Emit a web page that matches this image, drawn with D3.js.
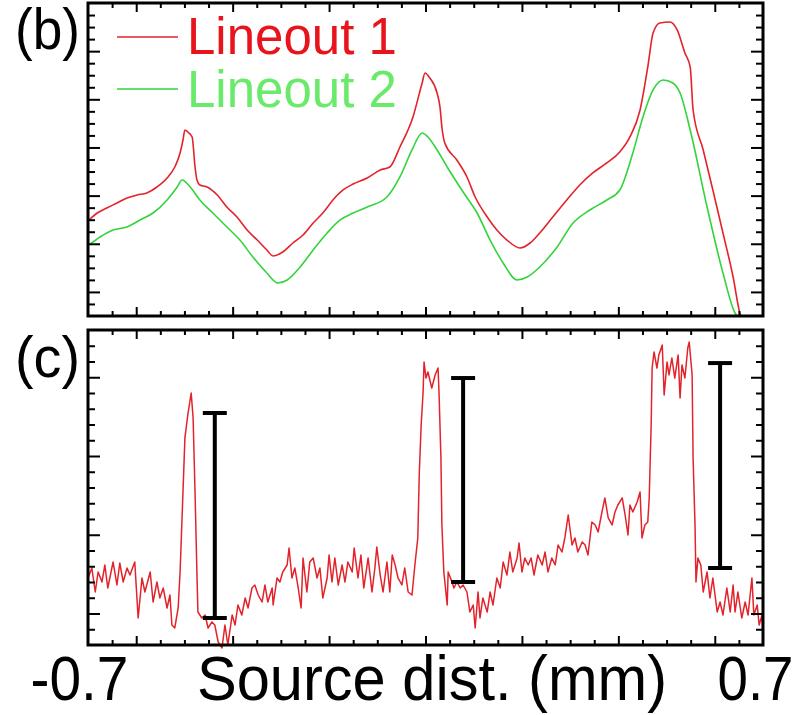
<!DOCTYPE html>
<html>
<head>
<meta charset="utf-8">
<script src="https://cdn.jsdelivr.net/npm/d3@7"></script>
<style>
  body { margin: 0; background: #fff; }
  text { font-family: "Liberation Sans", Arial, Helvetica, sans-serif; }
</style>
</head>
<body>
<div id="chart"></div>
<script>
// x in mm, intensities in arbitrary units
const xDomain = [-0.7, 0.7];
const xLabels = [-0.7, 0.7];
const xMajor = [-0.6, -0.4, -0.2, 0, 0.2, 0.4, 0.6];

const seriesNames = ["Lineout 1", "Lineout 2"];

// panel (b) lineouts
const lineout1 = [
  [-0.698, 2.494], [-0.681, 2.639], [-0.661, 2.743], [-0.640, 2.847], [-0.619, 2.951],
  [-0.598, 3.013], [-0.578, 3.055], [-0.557, 3.179], [-0.536, 3.366], [-0.520, 3.595],
  [-0.509, 3.885], [-0.503, 4.155], [-0.499, 4.363], [-0.493, 4.321], [-0.484, 4.218],
  [-0.478, 3.595], [-0.474, 3.324], [-0.468, 3.221], [-0.453, 3.179], [-0.432, 3.013],
  [-0.412, 2.764], [-0.391, 2.556], [-0.370, 2.286], [-0.349, 2.078], [-0.329, 1.871],
  [-0.316, 1.746], [-0.296, 1.829], [-0.275, 2.016], [-0.254, 2.182], [-0.233, 2.431],
  [-0.213, 2.639], [-0.192, 2.909], [-0.171, 3.117], [-0.150, 3.241], [-0.121, 3.366],
  [-0.094, 3.532], [-0.074, 3.595], [-0.053, 4.010], [-0.026, 4.633], [-0.007, 5.339],
  [-0.001, 5.547], [0.009, 5.443], [0.024, 5.131], [0.030, 4.841], [0.034, 4.425],
  [0.040, 4.093], [0.065, 3.740], [0.086, 3.387], [0.103, 2.971], [0.128, 2.556],
  [0.148, 2.286], [0.169, 2.078], [0.196, 1.912], [0.217, 2.016], [0.237, 2.224],
  [0.264, 2.556], [0.293, 2.909], [0.320, 3.221], [0.347, 3.470], [0.376, 3.678],
  [0.403, 3.906], [0.424, 4.218], [0.445, 4.778], [0.461, 5.671], [0.472, 6.378],
  [0.486, 6.585], [0.507, 6.606], [0.522, 6.440], [0.538, 5.962], [0.549, 5.671],
  [0.555, 4.778], [0.576, 3.948], [0.596, 3.117], [0.617, 2.224], [0.638, 1.310],
  [0.652, 0.562], [0.654, 0.5]
];
const lineout2 = [
  [-0.698, 1.975], [-0.675, 2.141], [-0.648, 2.286], [-0.619, 2.348], [-0.592, 2.494],
  [-0.565, 2.639], [-0.536, 2.909], [-0.515, 3.179], [-0.505, 3.324], [-0.488, 3.179],
  [-0.468, 2.909], [-0.441, 2.639], [-0.412, 2.348], [-0.385, 2.078], [-0.358, 1.725],
  [-0.329, 1.393], [-0.306, 1.185], [-0.287, 1.248], [-0.260, 1.518], [-0.233, 1.871],
  [-0.204, 2.224], [-0.177, 2.494], [-0.150, 2.639], [-0.121, 2.764], [-0.080, 2.971],
  [-0.053, 3.387], [-0.028, 3.948], [-0.007, 4.301], [0.005, 4.218], [0.024, 3.948],
  [0.045, 3.595], [0.078, 3.075], [0.107, 2.639], [0.134, 2.078],
  [0.161, 1.601], [0.190, 1.248], [0.211, 1.310], [0.237, 1.518], [0.273, 1.933],
  [0.306, 2.431], [0.341, 2.701], [0.376, 2.909], [0.403, 3.117], [0.430, 3.885],
  [0.451, 4.633], [0.472, 5.194], [0.493, 5.401], [0.513, 5.339], [0.528, 5.131],
  [0.549, 4.363], [0.584, 2.764], [0.617, 1.393], [0.642, 0.562], [0.646, 0.5]
];

// panel (c) trace
const traceC = [
  [-0.700, 1.451], [-0.692, 1.578], [-0.685, 1.273], [-0.679, 1.527], [-0.671, 1.400],
  [-0.665, 1.616], [-0.659, 1.324], [-0.648, 1.654], [-0.640, 1.362], [-0.634, 1.641],
  [-0.627, 1.400], [-0.619, 1.578], [-0.613, 1.489], [-0.603, 1.654], [-0.596, 0.943],
  [-0.588, 1.451], [-0.582, 1.273], [-0.571, 1.527], [-0.565, 1.146], [-0.557, 1.400],
  [-0.551, 1.197], [-0.544, 1.324], [-0.536, 1.070], [-0.530, 1.235], [-0.526, 0.854],
  [-0.520, 0.816], [-0.513, 1.070], [-0.509, 1.527], [-0.503, 2.543], [-0.499, 3.229],
  [-0.493, 3.521], [-0.486, 3.800], [-0.482, 3.483], [-0.478, 2.543], [-0.474, 1.489],
  [-0.472, 1.019], [-0.464, 0.943], [-0.457, 0.981], [-0.451, 0.816], [-0.443, 0.892],
  [-0.437, 0.854], [-0.430, 0.638], [-0.422, 0.562], [-0.416, 0.854], [-0.410, 0.600],
  [-0.401, 0.981], [-0.395, 0.854], [-0.389, 1.108], [-0.381, 0.981], [-0.374, 1.197],
  [-0.368, 1.070], [-0.360, 1.324], [-0.354, 1.362], [-0.347, 1.235], [-0.339, 1.146],
  [-0.333, 1.362], [-0.327, 1.146], [-0.318, 1.324], [-0.316, 1.108], [-0.308, 1.451],
  [-0.302, 1.400], [-0.296, 1.527], [-0.287, 1.616], [-0.283, 1.832], [-0.277, 1.451],
  [-0.271, 1.578], [-0.264, 1.324], [-0.258, 1.070], [-0.254, 1.705], [-0.246, 1.273],
  [-0.240, 1.654], [-0.233, 1.705], [-0.225, 1.451], [-0.219, 1.578], [-0.213, 1.197],
  [-0.204, 1.451], [-0.200, 1.743], [-0.194, 1.400], [-0.188, 1.705], [-0.181, 1.362],
  [-0.173, 1.616], [-0.167, 1.400], [-0.161, 1.654], [-0.152, 1.527], [-0.148, 1.832],
  [-0.140, 1.451], [-0.134, 1.743], [-0.128, 1.324], [-0.119, 1.705], [-0.111, 1.273],
  [-0.105, 1.578], [-0.101, 1.844], [-0.094, 1.489], [-0.088, 1.273], [-0.080, 1.654],
  [-0.074, 1.273], [-0.069, 1.743], [-0.063, 1.616], [-0.057, 1.451], [-0.049, 1.362],
  [-0.043, 1.578], [-0.036, 1.273], [-0.028, 1.235], [-0.022, 1.616], [-0.016, 1.959],
  [-0.013, 2.759], [-0.009, 3.394], [-0.005, 3.813], [-0.003, 4.194], [0.001, 3.990],
  [0.005, 4.067], [0.013, 3.863], [0.020, 4.029], [0.026, 4.117], [0.028, 3.813],
  [0.032, 2.975], [0.034, 2.124], [0.038, 1.527], [0.045, 1.108], [0.047, 1.527],
  [0.055, 1.400], [0.059, 1.324], [0.065, 1.400], [0.072, 1.324], [0.078, 1.362],
  [0.086, 1.273], [0.092, 1.019], [0.099, 1.108], [0.103, 0.816], [0.109, 1.273],
  [0.113, 0.943], [0.119, 1.197], [0.128, 1.019], [0.134, 1.273], [0.140, 1.108],
  [0.148, 1.451], [0.155, 1.324], [0.161, 1.654], [0.169, 1.489], [0.175, 1.781],
  [0.181, 1.527], [0.190, 1.705], [0.194, 1.895], [0.200, 1.527], [0.206, 1.705],
  [0.213, 1.616], [0.219, 1.705], [0.225, 1.489], [0.233, 1.743], [0.242, 1.616],
  [0.248, 1.781], [0.254, 1.527], [0.262, 1.705], [0.269, 1.616], [0.275, 1.870],
  [0.283, 1.781], [0.289, 1.959], [0.296, 2.251], [0.304, 1.870], [0.310, 1.959],
  [0.316, 1.781], [0.325, 1.908], [0.331, 1.870], [0.337, 1.743], [0.345, 2.162],
  [0.352, 2.124], [0.358, 2.035], [0.366, 2.289], [0.372, 2.467], [0.379, 2.213],
  [0.387, 2.124], [0.393, 2.289], [0.399, 2.378], [0.408, 2.467], [0.414, 2.251],
  [0.420, 1.997], [0.424, 2.378], [0.430, 2.289], [0.439, 2.416], [0.445, 2.543],
  [0.449, 1.959], [0.455, 2.124], [0.461, 2.162], [0.464, 2.467], [0.468, 3.394],
  [0.470, 4.117], [0.474, 4.321], [0.480, 4.117], [0.484, 4.283], [0.491, 4.410],
  [0.495, 3.775], [0.501, 4.194], [0.505, 4.029], [0.511, 4.244], [0.517, 3.990],
  [0.524, 4.283], [0.528, 3.737], [0.532, 4.156], [0.538, 3.990], [0.544, 4.371],
  [0.547, 4.448], [0.553, 4.029], [0.555, 2.975], [0.559, 2.124], [0.561, 1.400],
  [0.565, 1.705], [0.571, 1.616], [0.576, 1.273], [0.584, 1.527], [0.590, 1.197],
  [0.596, 1.451], [0.605, 1.019], [0.611, 1.146], [0.617, 0.981], [0.625, 1.324],
  [0.632, 1.019], [0.638, 1.362], [0.642, 1.019], [0.648, 1.273], [0.656, 0.943],
  [0.663, 1.146], [0.669, 0.981], [0.677, 1.451], [0.681, 0.981], [0.688, 1.108],
  [0.692, 0.854], [0.698, 0.981], [0.700, 0.727]
];

// error bars in panel (c)
const errX = [-0.437, 0.078, 0.611];
const errLow = [0.943, 1.400, 1.578];
const errHigh = [3.546, 3.990, 4.180];

const W = 801, H = 715;
const left = 88, right = 763;
const red = "#e3232b", green = "#33d33c";

const svg = d3.select("#chart").append("svg")
    .attr("width", W).attr("height", H)
    .style("background", "#fff");

const x = d3.scaleLinear().domain(xDomain).range([left, right]);
const xMinor = d3.range(-0.65, 0.7, 0.05).filter(v => !xMajor.some(m => Math.abs(m - v) < 1e-6));

function drawPanel(name, y, top, bottom, yMajor, yMinor) {
    const g = svg.append("g").attr("class", name);

    const put = (axis, tx, ty) => g.append("g")
        .attr("transform", `translate(${tx},${ty})`)
        .call(axis.tickFormat("").tickSizeOuter(0))
        .call(s => s.select(".domain").remove())
        .call(s => s.selectAll("line").attr("stroke", "#000").attr("stroke-width", 2));

    put(d3.axisBottom(x).tickValues(xMinor).tickSizeInner(-5), 0, bottom);
    put(d3.axisBottom(x).tickValues(xMajor).tickSizeInner(-9), 0, bottom);
    put(d3.axisTop(x).tickValues(xMinor).tickSizeInner(-5), 0, top);
    put(d3.axisTop(x).tickValues(xMajor).tickSizeInner(-9), 0, top);
    put(d3.axisLeft(y).tickValues(yMinor).tickSizeInner(-7), left, 0);
    put(d3.axisLeft(y).tickValues(yMajor).tickSizeInner(-12), left, 0);
    put(d3.axisRight(y).tickValues(yMinor).tickSizeInner(-7), right, 0);
    put(d3.axisRight(y).tickValues(yMajor).tickSizeInner(-12), right, 0);

    g.append("rect")
        .attr("x", left).attr("y", top)
        .attr("width", right - left).attr("height", bottom - top)
        .attr("fill", "none").attr("stroke", "#000").attr("stroke-width", 3);
    return g;
}

// ---- panel (b)
const yB = d3.scaleLinear().domain([0.5, 7]).range([316, 3]);
const yBMajor = [1, 2, 3, 4, 5, 6];
const yBMinor = d3.range(0.75, 7, 0.25).filter(v => v % 1 !== 0);

svg.append("clipPath").attr("id", "clipB").append("rect")
    .attr("x", left).attr("y", 3).attr("width", right - left).attr("height", 313);

const lineB = d3.line().curve(d3.curveMonotoneX).x(d => x(d[0])).y(d => yB(d[1]));
svg.append("path").datum(lineout2).attr("d", lineB)
    .attr("clip-path", "url(#clipB)")
    .attr("fill", "none").attr("stroke", green).attr("stroke-width", 1.6);
svg.append("path").datum(lineout1).attr("d", lineB)
    .attr("clip-path", "url(#clipB)")
    .attr("fill", "none").attr("stroke", red).attr("stroke-width", 1.6);

drawPanel("panel-b", yB, 3, 316, yBMajor, yBMinor);

// legend
const legend = svg.append("g");
[[red, "#e8141c"], [green, "#6aea6a"]].forEach(([lc, tc], i) => {
    const ly = 37 + i * 52;
    legend.append("line").attr("x1", 117).attr("x2", 178).attr("y1", ly).attr("y2", ly)
        .attr("stroke", lc).attr("stroke-width", 1.6);
    legend.append("text").attr("x", 187).attr("y", 54 + i * 53)
        .attr("font-size", 51).attr("fill", tc).text(seriesNames[i]);
});

svg.append("text").attr("x", 15).attr("y", 49).attr("font-size", 58)
    .attr("textLength", 65).attr("lengthAdjust", "spacingAndGlyphs").text("(b)");

// ---- panel (c)
const yC = d3.scaleLinear().domain([0.6, 4.6]).range([645, 330]);
const yCMajor = [1, 2, 3, 4];
const yCMinor = d3.range(0.8, 4.6, 0.2).filter(v => Math.abs(v - Math.round(v)) > 1e-6);

const lineC = d3.line().x(d => x(d[0])).y(d => yC(d[1]));
svg.append("path").datum(traceC).attr("d", lineC)
    .attr("fill", "none").attr("stroke", red).attr("stroke-width", 1.5)
    .attr("stroke-linejoin", "round");

const bars = svg.append("g").attr("stroke", "#000").attr("stroke-width", 4);
errX.forEach((ex, i) => {
    const cx = x(ex);
    bars.append("line").attr("x1", cx).attr("x2", cx).attr("y1", yC(errLow[i])).attr("y2", yC(errHigh[i]));
    bars.append("line").attr("x1", cx - 12).attr("x2", cx + 12).attr("y1", yC(errLow[i])).attr("y2", yC(errLow[i]));
    bars.append("line").attr("x1", cx - 12).attr("x2", cx + 12).attr("y1", yC(errHigh[i])).attr("y2", yC(errHigh[i]));
});

drawPanel("panel-c", yC, 330, 645, yCMajor, yCMinor);

svg.append("text").attr("x", 15).attr("y", 377).attr("font-size", 58)
    .attr("textLength", 65).attr("lengthAdjust", "spacingAndGlyphs").text("(c)");

// ---- x labels
const xAxis = svg.append("g").attr("transform", "translate(0,645)")
    .call(d3.axisBottom(x).tickValues(xLabels).tickSize(0).tickFormat(d => d.toFixed(1)));
xAxis.select(".domain").remove();
xAxis.selectAll("text")
    .attr("y", 55).attr("dy", 0)
    .attr("font-size", 63).attr("fill", "#000")
    .attr("font-family", "'Liberation Sans', Arial, sans-serif")
    .attr("dx", d => d < 0 ? -9 : -8)
    .attr("textLength", d => d < 0 ? 98 : 76)
    .attr("lengthAdjust", "spacingAndGlyphs");

svg.append("text").attr("x", 432).attr("y", 700).attr("text-anchor", "middle")
    .attr("font-size", 63).attr("textLength", 470).attr("lengthAdjust", "spacingAndGlyphs")
    .text("Source dist. (mm)");
</script>
</body>
</html>
